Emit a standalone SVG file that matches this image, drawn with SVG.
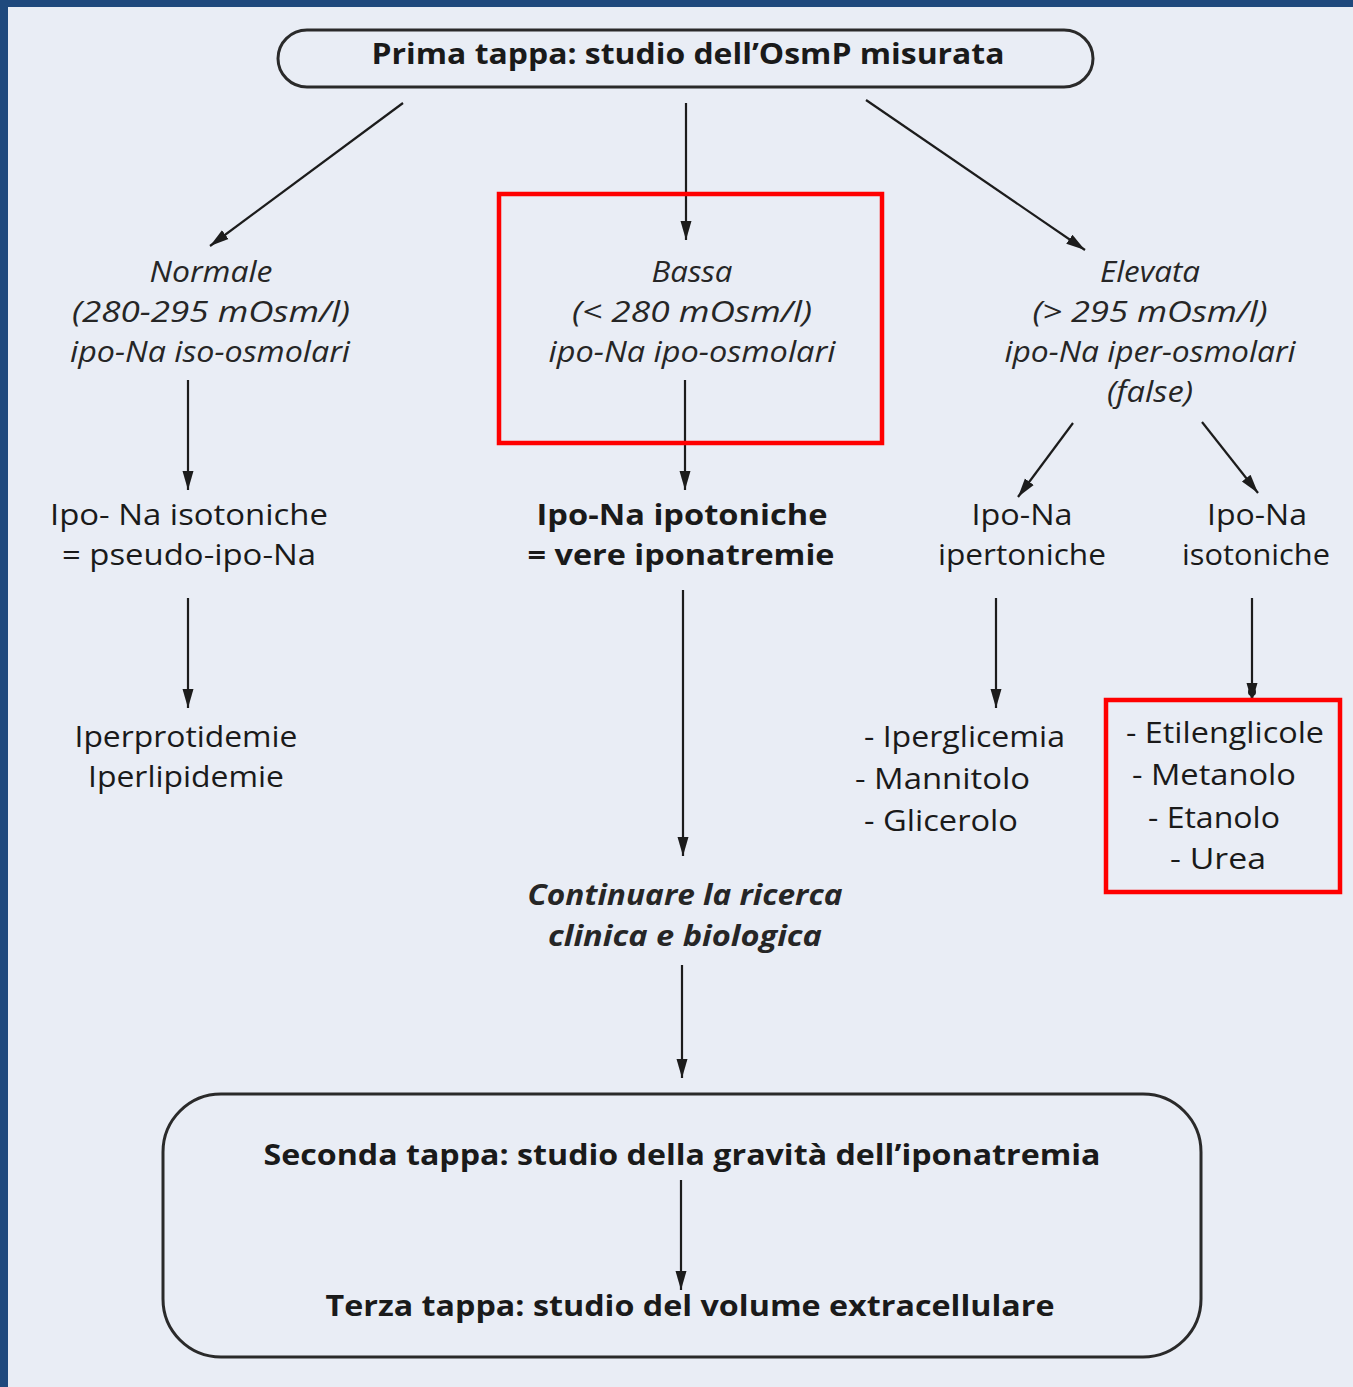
<svg xmlns="http://www.w3.org/2000/svg" width="1353" height="1387" viewBox="0 0 1353 1387">
<defs>
<marker id="ah" markerUnits="userSpaceOnUse" markerWidth="20" markerHeight="22" viewBox="0 0 20 22" refX="19" refY="7" orient="auto">
<path d="M0,1.5 L19,7 L0,12.5 Z" fill="#1c1c1c"/>
</marker>
<style>
.t{font-family:"Open Sans","Liberation Sans",sans-serif;font-size:29px;fill:#1a1a1a;text-anchor:middle}
.i{font-style:italic;fill:#262626}
.b{font-weight:bold}
.l{text-anchor:start}
.c{stroke:#1c1c1c;stroke-width:2.2;fill:none;marker-end:url(#ah)}
.box{fill:none;stroke:#2a2a2a;stroke-width:3}
.red{fill:none;stroke:#ff0000;stroke-width:4.5}
</style>
</defs>
<rect x="0" y="0" width="1353" height="1387" fill="#e9edf5"/>
<rect x="0" y="0" width="1353" height="7" fill="#1f497d"/>
<rect x="0" y="0" width="8" height="1387" fill="#1f497d"/>

<g id="connectors">
<line class="c" x1="403" y1="103" x2="210" y2="246"/>
<line class="c" x1="686" y1="103" x2="686" y2="240"/>
<line class="c" x1="866" y1="100" x2="1085" y2="250"/>
<line class="c" x1="188" y1="380" x2="188" y2="490"/>
<line class="c" x1="685" y1="380" x2="685" y2="490"/>
<line class="c" x1="1073" y1="423" x2="1018" y2="497"/>
<line class="c" x1="1202" y1="422" x2="1258" y2="493"/>
<line class="c" x1="188" y1="598" x2="188" y2="708"/>
<line class="c" x1="683" y1="590" x2="683" y2="856"/>
<line class="c" x1="996" y1="598" x2="996" y2="708"/>
<line class="c" x1="1252" y1="598" x2="1252" y2="702"/>
<circle cx="1252" cy="692" r="4" fill="#1c1c1c"/>
<line class="c" x1="682" y1="965" x2="682" y2="1078"/>
<line class="c" x1="681" y1="1180" x2="681" y2="1290"/>
</g>

<g id="n-prima">
<rect class="box" x="278" y="30" width="815" height="57" rx="29"/>
<text class="t b" x="688" y="64" textLength="633" lengthAdjust="spacingAndGlyphs">Prima tappa: studio dell’OsmP misurata</text>
</g>

<g id="n-normale">
<text class="t i" x="211" y="282" textLength="123" lengthAdjust="spacingAndGlyphs">Normale</text>
<text class="t i" x="211" y="322" textLength="278" lengthAdjust="spacingAndGlyphs">(280-295 mOsm/l)</text>
<text class="t i" x="210" y="362" textLength="280" lengthAdjust="spacingAndGlyphs">ipo-Na iso-osmolari</text>
</g>

<g id="n-bassa">
<text class="t i" x="692" y="282" textLength="81" lengthAdjust="spacingAndGlyphs">Bassa</text>
<text class="t i" x="692" y="322" textLength="240" lengthAdjust="spacingAndGlyphs">(&lt; 280 mOsm/l)</text>
<text class="t i" x="692" y="362" textLength="287" lengthAdjust="spacingAndGlyphs">ipo-Na ipo-osmolari</text>
</g>

<g id="n-elevata">
<text class="t i" x="1150" y="282" textLength="100" lengthAdjust="spacingAndGlyphs">Elevata</text>
<text class="t i" x="1150" y="322" textLength="235" lengthAdjust="spacingAndGlyphs">(&gt; 295 mOsm/l)</text>
<text class="t i" x="1150" y="362" textLength="291" lengthAdjust="spacingAndGlyphs">ipo-Na iper-osmolari</text>
<text class="t i" x="1150" y="402" textLength="86" lengthAdjust="spacingAndGlyphs">(false)</text>
</g>

<g id="n-pseudo">
<text class="t" x="189" y="525" textLength="278" lengthAdjust="spacingAndGlyphs">Ipo- Na isotoniche</text>
<text class="t" x="189" y="565" textLength="254" lengthAdjust="spacingAndGlyphs">= pseudo-ipo-Na</text>
</g>

<g id="n-ipotoniche">
<text class="t b" x="682" y="525" textLength="291" lengthAdjust="spacingAndGlyphs">Ipo-Na ipotoniche</text>
<text class="t b" x="681" y="565" textLength="307" lengthAdjust="spacingAndGlyphs">= vere iponatremie</text>
</g>

<g id="n-ipertoniche">
<text class="t" x="1022" y="525" textLength="101" lengthAdjust="spacingAndGlyphs">Ipo-Na</text>
<text class="t" x="1022" y="565" textLength="168" lengthAdjust="spacingAndGlyphs">ipertoniche</text>
</g>

<g id="n-isotoniche">
<text class="t" x="1257" y="525" textLength="100" lengthAdjust="spacingAndGlyphs">Ipo-Na</text>
<text class="t" x="1256" y="565" textLength="148" lengthAdjust="spacingAndGlyphs">isotoniche</text>
</g>

<g id="n-iperprot">
<text class="t" x="186" y="747" textLength="223" lengthAdjust="spacingAndGlyphs">Iperprotidemie</text>
<text class="t" x="186" y="787" textLength="196" lengthAdjust="spacingAndGlyphs">Iperlipidemie</text>
</g>

<g id="n-iperglic">
<text class="t l" x="864" y="747" textLength="201" lengthAdjust="spacingAndGlyphs">- Iperglicemia</text>
<text class="t l" x="855" y="789" textLength="175" lengthAdjust="spacingAndGlyphs">- Mannitolo</text>
<text class="t l" x="864" y="831" textLength="154" lengthAdjust="spacingAndGlyphs">- Glicerolo</text>
</g>

<g id="n-etilen">
<text class="t l" x="1126" y="743" textLength="198" lengthAdjust="spacingAndGlyphs">- Etilenglicole</text>
<text class="t l" x="1132" y="785" textLength="164" lengthAdjust="spacingAndGlyphs">- Metanolo</text>
<text class="t l" x="1148" y="828" textLength="132" lengthAdjust="spacingAndGlyphs">- Etanolo</text>
<text class="t l" x="1170" y="869" textLength="96" lengthAdjust="spacingAndGlyphs">- Urea</text>
</g>

<g id="n-continuare">
<text class="t b i" x="685" y="905" textLength="315" lengthAdjust="spacingAndGlyphs">Continuare la ricerca</text>
<text class="t b i" x="685" y="946" textLength="274" lengthAdjust="spacingAndGlyphs">clinica e biologica</text>
</g>

<g id="n-tappe">
<rect class="box" x="163" y="1094" width="1038" height="263" rx="58"/>
<text class="t b" x="682" y="1165" textLength="837" lengthAdjust="spacingAndGlyphs">Seconda tappa: studio della gravità dell’iponatremia</text>
<text class="t b" x="690" y="1316" textLength="729" lengthAdjust="spacingAndGlyphs">Terza tappa: studio del volume extracellulare</text>
</g>

<g id="highlights">
<rect class="red" x="499" y="194" width="383" height="249"/>
<rect class="red" x="1106" y="700" width="234" height="192"/>
</g>
</svg>
